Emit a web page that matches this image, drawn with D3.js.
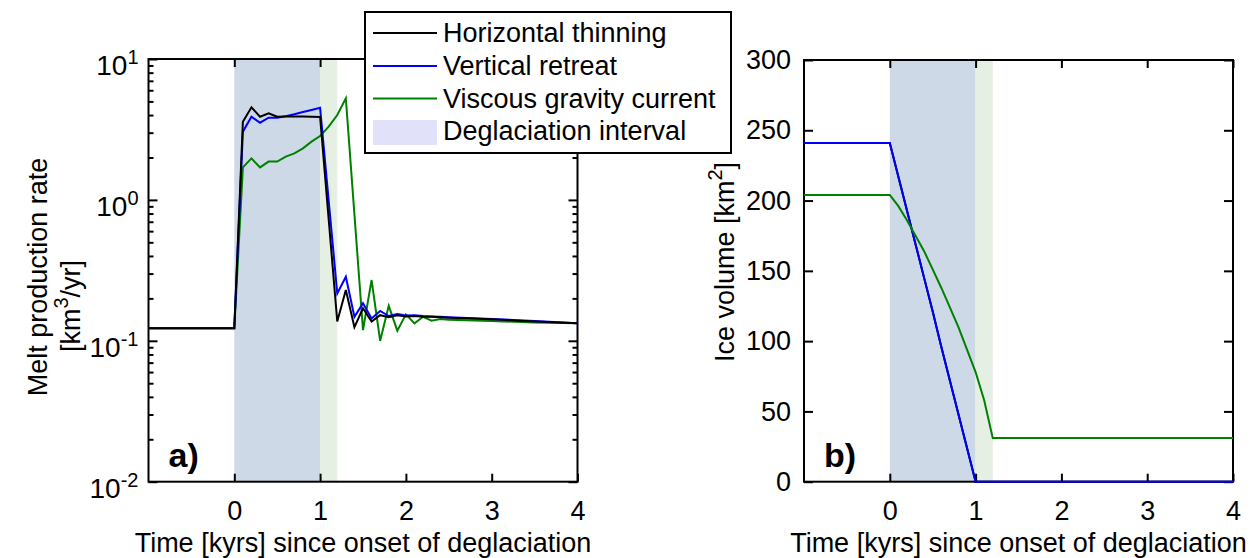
<!DOCTYPE html>
<html lang="en">
<head>
<meta charset="UTF-8">
<title>Melt production and ice volume</title>
<script src="https://d3js.org/d3.v7.min.js"></script>
<style>
  body { margin: 0; background: #fff; }
  text { font-family: "Liberation Sans", Arial, Helvetica, sans-serif; fill: #000; }
</style>
</head>
<body>
<div id="chart"></div>
<script>
// time axis for panel a (kyrs since onset of deglaciation)
var timeA = [-1, 0, 0.1, 0.2, 0.3, 0.4, 0.5, 0.6, 0.7, 0.8, 0.9, 1.0, 1.1, 1.2, 1.3, 1.4,
             1.5, 1.6, 1.7, 1.8, 1.9, 2.0, 2.1, 2.2, 2.3, 2.4, 2.5, 3.0, 3.5, 4.0];
// melt production rate [km3/yr], null = no sample
var meltHorizontal = [0.123, 0.123, 3.59, 4.54, 3.89, 4.12, 3.89, 3.9, 3.9, 3.9, 3.89, 3.88, null, 0.137, 0.229, 0.125,
                      0.170, 0.137, 0.152, 0.147, 0.152, 0.149, 0.150, 0.148, 0.148, 0.147, 0.146, 0.142, 0.137, 0.133];
var meltVertical   = [0.123, 0.123, 3.05, 3.89, 3.53, 3.83, 3.83, 3.92, 4.05, 4.2, 4.35, 4.5, null, 0.217, 0.285, 0.148,
                      0.185, 0.144, 0.163, 0.150, 0.155, 0.151, 0.152, 0.150, 0.149, 0.148, 0.147, 0.143, 0.138, 0.133];
var meltViscous    = [0.123, 0.123, 1.70, 1.97, 1.70, 1.87, 1.87, 2.03, 2.14, 2.32, 2.59, 2.84, 3.31, 4.00, 5.26, null,
                      0.119, 0.270, 0.100, 0.177, 0.118, 0.154, 0.133, 0.148, 0.139, 0.143, 0.141, 0.138, 0.135, 0.133];

// panel b, ice volume [km2]
var timeB = [-1, 0, 0.1, 0.2, 0.3, 0.4, 0.5, 0.6, 0.7, 0.8, 0.9, 1.0, 1.1, 1.2, 4.0];
var iceHorizontal = [241, 241, 217, 193, 169, 145, 121, 96, 72, 48, 24, 0, 0, 0, 0];
var iceVertical   = [241, 241, 217, 193, 169, 145, 121, 96, 72, 48, 24, 0, 0, 0, 0];
var iceViscous    = [204, 204, 196, 186, 175, 164, 151, 138, 124, 110, 94, 78, 58, 31, 31];

var deglaciation = [0, 1];     // shaded interval
var lagInterval = [1, 1.2];    // light green interval
var xTicks = [0, 1, 2, 3, 4];
var logTicks = [0.01, 0.1, 1, 10];
var volTicks = [0, 50, 100, 150, 200, 250, 300];

var seriesNames = ["Horizontal thinning", "Vertical retreat", "Viscous gravity current"];
var seriesColors = ["#000000", "#0000ff", "#008000"];

var W = 1258, H = 558;
var svg = d3.select("#chart").append("svg")
    .attr("width", W).attr("height", H);

var fs = 27, sup = 20;

function rows(t, v) {
  return t.map(function(d, i) { return {t: d, v: v[i]}; })
          .filter(function(d) { return d.v != null; });
}

function panel(opt) {
  var x = opt.x, y = opt.y;
  var g = svg.append("g");
  var x0 = x.range()[0], x1 = x.range()[1];
  var y0 = y.range()[0], y1 = y.range()[1];

  g.append("rect")
    .attr("x", x(deglaciation[0])).attr("y", y1)
    .attr("width", x(deglaciation[1]) - x(deglaciation[0])).attr("height", y0 - y1)
    .attr("fill", "#cdd9e6");
  g.append("rect")
    .attr("x", x(lagInterval[0])).attr("y", y1)
    .attr("width", x(lagInterval[1]) - x(lagInterval[0])).attr("height", y0 - y1)
    .attr("fill", "#e5efe3");

  // x ticks, bottom (labelled) and top
  g.append("g").attr("transform", "translate(0," + y0 + ")")
    .call(d3.axisBottom(x).tickValues(xTicks).tickSize(-8).tickPadding(19).tickFormat(d3.format("d")))
    .call(tidy);
  g.append("g").attr("transform", "translate(0," + y1 + ")")
    .call(d3.axisTop(x).tickValues(xTicks).tickSize(-8).tickFormat(""))
    .call(tidy);

  opt.yAxes(g);

  g.append("rect")
    .attr("x", x0).attr("y", y1).attr("width", x1 - x0).attr("height", y0 - y1)
    .attr("fill", "none").attr("stroke", "#000").attr("stroke-width", 2);

  // data lines sit on top of the axes box
  var line = d3.line().x(function(d) { return x(d.t); }).y(function(d) { return y(d.v); });
  opt.order.forEach(function(i) {
    g.append("path")
      .datum(rows(opt.time, opt.series[i]))
      .attr("d", line)
      .attr("fill", "none")
      .attr("stroke", seriesColors[i])
      .attr("stroke-width", 2);
  });

  g.append("text")
    .attr("x", (x0 + x1) / 2).attr("y", 552)
    .attr("text-anchor", "middle").style("font-size", fs + "px")
    .text("Time [kyrs] since onset of deglaciation");

  g.append("text")
    .attr("x", x0 + 20).attr("y", 467)
    .style("font-size", "34px").style("font-weight", "bold")
    .text(opt.tag);
  return g;
}

function tidy(sel) {
  sel.select(".domain").remove();
  sel.selectAll(".tick line").attr("stroke", "#000").attr("stroke-width", 2);
  sel.selectAll("text").style("font-size", fs + "px").attr("font-family", null);
}

// ---------- panel a ----------
var xA = d3.scaleLinear().domain([-1, 4]).range([148.5, 577.5]);
var yA = d3.scaleLog().domain([0.01, 10]).range([481.7, 59]);

var minorA = [];
logTicks.slice(0, 3).forEach(function(b) {
  for (var k = 2; k <= 9; k++) minorA.push(b * k);
});

panel({
  x: xA, y: yA, time: timeA, tag: "a)", order: [2, 1, 0],
  series: [meltHorizontal, meltVertical, meltViscous],
  yAxes: function(g) {
    g.append("g").attr("transform", "translate(" + xA.range()[0] + ",0)")
      .call(d3.axisLeft(yA).tickValues(logTicks).tickSize(-9).tickPadding(10).tickFormat(""))
      .call(tidy)
      .selectAll(".tick text")
      .each(function(d) {
        var t = d3.select(this).attr("dy", "0.55em").style("font-size", "28px");
        t.append("tspan").text("10");
        t.append("tspan").attr("dy", "-0.55em").style("font-size", sup + "px")
          .text(String(Math.round(Math.log10(d))));
      });
    g.append("g").attr("transform", "translate(" + xA.range()[0] + ",0)")
      .call(d3.axisLeft(yA).tickValues(minorA).tickSize(-5).tickFormat(""))
      .call(tidy);
    g.append("g").attr("transform", "translate(" + xA.range()[1] + ",0)")
      .call(d3.axisRight(yA).tickValues(logTicks).tickSize(-9).tickFormat(""))
      .call(tidy);
    g.append("g").attr("transform", "translate(" + xA.range()[1] + ",0)")
      .call(d3.axisRight(yA).tickValues(minorA).tickSize(-5).tickFormat(""))
      .call(tidy);
  }
});

var yLabA = svg.append("text")
  .attr("transform", "translate(47,277) rotate(-90)")
  .attr("text-anchor", "middle").style("font-size", fs + "px")
  .text("Melt production rate");
var l2 = svg.append("text")
  .attr("transform", "translate(80,306) rotate(-90)")
  .attr("text-anchor", "middle").style("font-size", fs + "px");
l2.append("tspan").text("[km");
l2.append("tspan").attr("dy", "-0.6em").style("font-size", sup + "px").text("3");
l2.append("tspan").attr("dy", "0.44em").text("/yr]");

// ---------- panel b ----------
var xB = d3.scaleLinear().domain([-1, 4]).range([804, 1233]);
var yB = d3.scaleLinear().domain([0, 300]).range([481.7, 60]);

panel({
  x: xB, y: yB, time: timeB, tag: "b)", order: [0, 1, 2],
  series: [iceHorizontal, iceVertical, iceViscous],
  yAxes: function(g) {
    g.append("g").attr("transform", "translate(" + xB.range()[0] + ",0)")
      .call(d3.axisLeft(yB).tickValues(volTicks).tickSize(-9).tickPadding(13).tickFormat(d3.format("d")))
      .call(tidy);
    g.append("g").attr("transform", "translate(" + xB.range()[1] + ",0)")
      .call(d3.axisRight(yB).tickValues(volTicks).tickSize(-9).tickFormat(""))
      .call(tidy);
  }
});

var yLabB = svg.append("text")
  .attr("transform", "translate(734,262) rotate(-90)")
  .attr("text-anchor", "middle").style("font-size", fs + "px");
yLabB.append("tspan").text("Ice volume [km");
yLabB.append("tspan").attr("dy", "-0.6em").style("font-size", sup + "px").text("2");
yLabB.append("tspan").attr("dy", "0.44em").text("]");

// ---------- legend ----------
var leg = svg.append("g");
leg.append("rect")
  .attr("x", 365).attr("y", 12).attr("width", 366).attr("height", 141)
  .attr("fill", "#fff").attr("stroke", "#000").attr("stroke-width", 2);
var rowY = [33, 66, 98.5, 131];
seriesNames.forEach(function(n, i) {
  leg.append("line")
    .attr("x1", 373).attr("x2", 437).attr("y1", rowY[i]).attr("y2", rowY[i])
    .attr("stroke", seriesColors[i]).attr("stroke-width", 2);
  leg.append("text").attr("x", 443).attr("y", rowY[i]).attr("dy", "0.35em")
    .style("font-size", fs + "px").text(n);
});
leg.append("rect")
  .attr("x", 373).attr("y", 120).attr("width", 64).attr("height", 25)
  .attr("fill", "#e1e1f9");
leg.append("text").attr("x", 443).attr("y", rowY[3]).attr("dy", "0.35em")
  .style("font-size", fs + "px").text("Deglaciation interval");
</script>
</body>
</html>
